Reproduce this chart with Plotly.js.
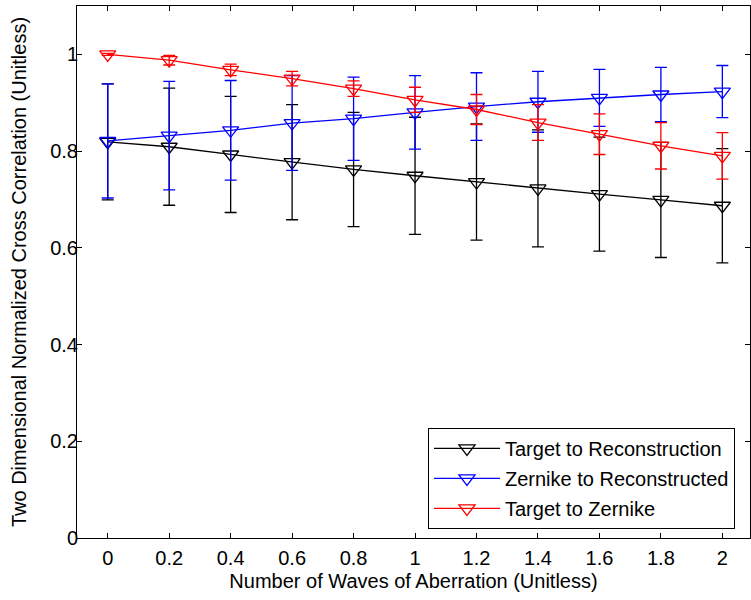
<!DOCTYPE html>
<html>
<head>
<meta charset="utf-8">
<script src="https://cdn.plot.ly/plotly-3.0.1.min.js"></script>
<style>html,body{margin:0;padding:0;background:#fff;}#chart{width:751px;height:600px;}</style>
</head>
<body>
<div id="chart"></div>
<script>
var waves = [0, 0.2, 0.4, 0.6, 0.8, 1.0, 1.2, 1.4, 1.6, 1.8, 2.0];
var waveLabels = ['0','0.2','0.4','0.6','0.8','1','1.2','1.4','1.6','1.8','2'];
var yTicks = [0, 0.2, 0.4, 0.6, 0.8, 1];
var yTickLabels = ['0','0.2','0.4','0.6','0.8','1'];

var targetToRecon    = [0.819, 0.809, 0.793, 0.777, 0.762, 0.749, 0.736, 0.723, 0.711, 0.699, 0.687];
var targetToReconErr = [0.120, 0.121, 0.120, 0.119, 0.118, 0.121, 0.120, 0.121, 0.118, 0.119, 0.118];

var zernikeToRecon    = [0.821, 0.832, 0.843, 0.858, 0.867, 0.880, 0.892, 0.902, 0.910, 0.917, 0.923];
var zernikeToReconErr = [0.118, 0.112, 0.103, 0.098, 0.086, 0.076, 0.070, 0.063, 0.059, 0.056, 0.054];

var targetToZernike    = [1.000, 0.988, 0.968, 0.950, 0.929, 0.906, 0.886, 0.859, 0.835, 0.811, 0.790];
var targetToZernikeErr = [0.002, 0.010, 0.012, 0.015, 0.016, 0.026, 0.031, 0.037, 0.042, 0.048, 0.048];

var seriesNames = ['Target to Reconstruction', 'Zernike to Reconstructed', 'Target to Zernike'];

function mk(y, err, name, color) {
  return {
    x: waves, y: y, name: name, type: 'scatter', mode: 'lines+markers',
    legendgroup: name,
    line: {color: color, width: 1.3},
    marker: {symbol: 'triangle-down-open', size: 14, color: color, line: {width: 1.3, color: color}},
    error_y: {type: 'data', array: err, visible: true, color: color, thickness: 1.3, width: 6}
  };
}

var data = [
  mk(targetToRecon, targetToReconErr, seriesNames[0], '#000000'),
  mk(zernikeToRecon, zernikeToReconErr, seriesNames[1], '#0000ff'),
  mk(targetToZernike, targetToZernikeErr, seriesNames[2], '#ff0000')
];

var axFont = {family: 'Liberation Sans, Arial, sans-serif', size: 20, color: '#000'};

var layout = {
  width: 751, height: 600,
  margin: {l: 77, r: 1, t: 6, b: 62},
  paper_bgcolor: '#fff', plot_bgcolor: '#fff',
  font: axFont,
  showlegend: true,
  xaxis: {
    range: [-0.1, 2.09], tickvals: waves, ticktext: waveLabels,
    ticks: 'inside', ticklen: 5, tickcolor: '#000', showline: true, linecolor: '#000', linewidth: 1,
    mirror: 'ticks', showgrid: false, zeroline: false, tickfont: axFont, ticklabelstandoff: 2,
    title: {text: 'Number of Waves of Aberration (Unitless)', font: axFont, standoff: 5}
  },
  yaxis: {
    range: [0, 1.1], tickvals: yTicks, ticktext: yTickLabels,
    ticks: 'inside', ticklen: 5, tickcolor: '#000', showline: true, linecolor: '#000', linewidth: 1,
    mirror: 'ticks', showgrid: false, zeroline: false, tickfont: axFont, ticklabelstandoff: -6,
    title: {text: 'Two Dimensional Normalized Cross Correlation (Unitless)', font: axFont, standoff: 18}
  },
  legend: {
    x: 0.5215, y: 0.017, xanchor: 'left', yanchor: 'bottom',
    bgcolor: '#fff', bordercolor: '#000', borderwidth: 1,
    font: axFont, itemwidth: 66, tracegroupgap: 1
  }
};

Plotly.newPlot('chart', data, layout, {displayModeBar: false});
</script>
</body>
</html>
